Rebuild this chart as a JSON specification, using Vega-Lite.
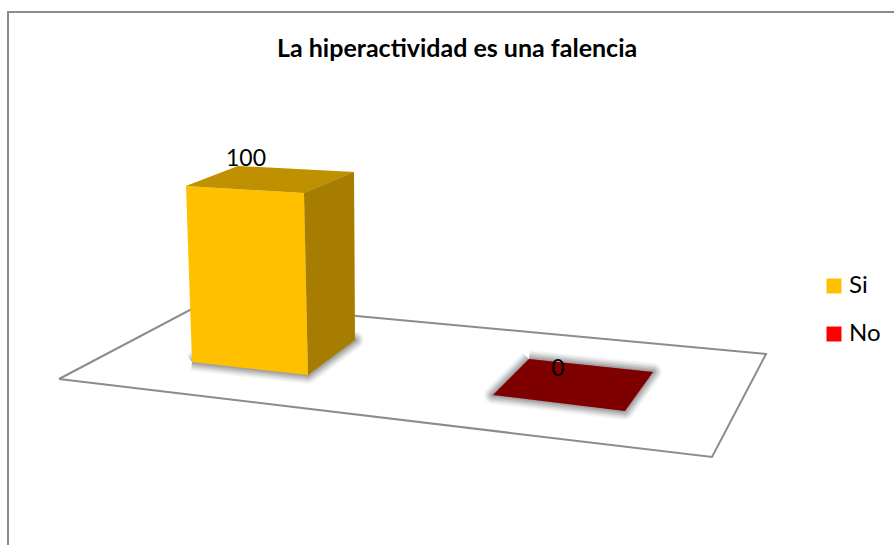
{
"$schema":"https://vega.github.io/schema/vega-lite/v6.json",
"autosize":"none","padding":0,"width":894,"height":545,
"background":"white",
"view":{"stroke":null},
"title":{"text":"La hiperactividad es una falencia","orient":"top","anchor":"start","frame":"group","offset":-62,"dx":277,"font":"Lato","fontSize":25,"fontWeight":"bold","color":"#000000"},
"datasets":{
"vertices":[
{"cara":"marco","orden":1,"x":8,"y":545},{"cara":"marco","orden":2,"x":8,"y":12},{"cara":"marco","orden":3,"x":894,"y":12},
{"cara":"piso","orden":1,"x":59,"y":379},{"cara":"piso","orden":2,"x":205,"y":302},{"cara":"piso","orden":3,"x":766,"y":354},{"cara":"piso","orden":4,"x":712,"y":457},{"cara":"piso","orden":5,"x":59,"y":379},
{"cara":"base Si","orden":1,"x":192,"y":362},{"cara":"base Si","orden":2,"x":308,"y":375},{"cara":"base Si","orden":3,"x":355,"y":340},{"cara":"base Si","orden":4,"x":240,"y":326},{"cara":"base Si","orden":5,"x":192,"y":362},
{"cara":"base No","orden":1,"x":529,"y":359},{"cara":"base No","orden":2,"x":653,"y":372},{"cara":"base No","orden":3,"x":625,"y":411},{"cara":"base No","orden":4,"x":493,"y":395},{"cara":"base No","orden":5,"x":529,"y":359},
{"cara":"frente Si","respuesta":"Si","orden":1,"x":186,"y":186},{"cara":"frente Si","respuesta":"Si","orden":2,"x":304,"y":193},{"cara":"frente Si","respuesta":"Si","orden":3,"x":308,"y":375},{"cara":"frente Si","respuesta":"Si","orden":4,"x":192,"y":362},
{"cara":"tapa Si","respuesta":"Si","orden":1,"x":186,"y":186},{"cara":"tapa Si","respuesta":"Si","orden":2,"x":238,"y":166},{"cara":"tapa Si","respuesta":"Si","orden":3,"x":354,"y":172},{"cara":"tapa Si","respuesta":"Si","orden":4,"x":304,"y":193},
{"cara":"lado Si","respuesta":"Si","orden":1,"x":304,"y":193},{"cara":"lado Si","respuesta":"Si","orden":2,"x":354,"y":172},{"cara":"lado Si","respuesta":"Si","orden":3,"x":355,"y":340},{"cara":"lado Si","respuesta":"Si","orden":4,"x":308,"y":375},
{"cara":"tapa No","respuesta":"No","orden":1,"x":529,"y":359},{"cara":"tapa No","respuesta":"No","orden":2,"x":653,"y":372},{"cara":"tapa No","respuesta":"No","orden":3,"x":625,"y":411},{"cara":"tapa No","respuesta":"No","orden":4,"x":493,"y":395}
],
"respuestas":[{"respuesta":"Si","valor":100,"x":246,"y":159},{"respuesta":"No","valor":0,"x":558,"y":369}]
},
"data":{"name":"vertices"},
"encoding":{
"x":{"field":"x","type":"quantitative","scale":{"domain":[0,894],"nice":false,"zero":false},"axis":null},
"y":{"field":"y","type":"quantitative","scale":{"domain":[545,0],"nice":false,"zero":false},"axis":null}
},
"layer":[
{"transform":[{"filter":"datum.cara==='marco'||datum.cara==='piso'"}],"mark":{"type":"line","stroke":"#8C8C8C","strokeWidth":2,"strokeJoin":"miter","clip":false},"encoding":{"detail":{"field":"cara"},"order":{"field":"orden"}}},
{"transform":[{"filter":"datum.cara==='base Si'||datum.cara==='base No'"}],"mark":{"type":"line","stroke":"#000000","strokeWidth":18,"strokeOpacity":0.04,"strokeJoin":"round"},"encoding":{"detail":{"field":"cara"},"order":{"field":"orden"}}},
{"transform":[{"filter":"datum.cara==='base Si'||datum.cara==='base No'"}],"mark":{"type":"line","stroke":"#000000","strokeWidth":15,"strokeOpacity":0.05,"strokeJoin":"round"},"encoding":{"detail":{"field":"cara"},"order":{"field":"orden"}}},
{"transform":[{"filter":"datum.cara==='base Si'||datum.cara==='base No'"}],"mark":{"type":"line","stroke":"#000000","strokeWidth":12,"strokeOpacity":0.07,"strokeJoin":"round"},"encoding":{"detail":{"field":"cara"},"order":{"field":"orden"}}},
{"transform":[{"filter":"datum.cara==='base Si'||datum.cara==='base No'"}],"mark":{"type":"line","stroke":"#000000","strokeWidth":9,"strokeOpacity":0.08,"strokeJoin":"round"},"encoding":{"detail":{"field":"cara"},"order":{"field":"orden"}}},
{"transform":[{"filter":"datum.cara==='base Si'||datum.cara==='base No'"}],"mark":{"type":"line","stroke":"#000000","strokeWidth":6,"strokeOpacity":0.09,"strokeJoin":"round"},"encoding":{"detail":{"field":"cara"},"order":{"field":"orden"}}},
{"transform":[{"filter":"datum.cara==='base Si'||datum.cara==='base No'"}],"mark":{"type":"line","stroke":"#000000","strokeWidth":3,"strokeOpacity":0.1,"strokeJoin":"round"},"encoding":{"detail":{"field":"cara"},"order":{"field":"orden"}}},
{"transform":[{"filter":"isValid(datum.respuesta)"}],"mark":{"type":"line","strokeWidth":0,"stroke":null},"encoding":{"detail":{"field":"cara"},"order":{"field":"orden"},"fill":{"field":"respuesta","type":"nominal","scale":{"domain":["Si","No"],"range":["#FFC000","#FF0000"]},"legend":{"orient":"none","legendX":822,"legendY":274,"title":null,"symbolType":"square","symbolSize":225,"labelFont":"Lato","labelFontSize":24,"labelColor":"#000000","rowPadding":24,"symbolStrokeWidth":0,"labelOffset":3,"symbolOpacity":1}}}},
{"transform":[{"filter":"datum.cara==='tapa Si'||datum.cara==='lado Si'||datum.cara==='tapa No'"}],"mark":{"type":"line","strokeWidth":0,"stroke":null,"fill":"#000000"},"encoding":{"detail":{"field":"cara"},"order":{"field":"orden"},"opacity":{"field":"cara","type":"nominal","scale":{"type":"ordinal","domain":["tapa Si","lado Si","tapa No"],"range":[0.25,0.35,0.5]},"legend":null}}},
{"data":{"name":"respuestas"},"mark":{"type":"text","font":"Lato","fontSize":23,"color":"#000000","align":"center","baseline":"middle"},"encoding":{"text":{"field":"valor","type":"quantitative"}}}
]
}
